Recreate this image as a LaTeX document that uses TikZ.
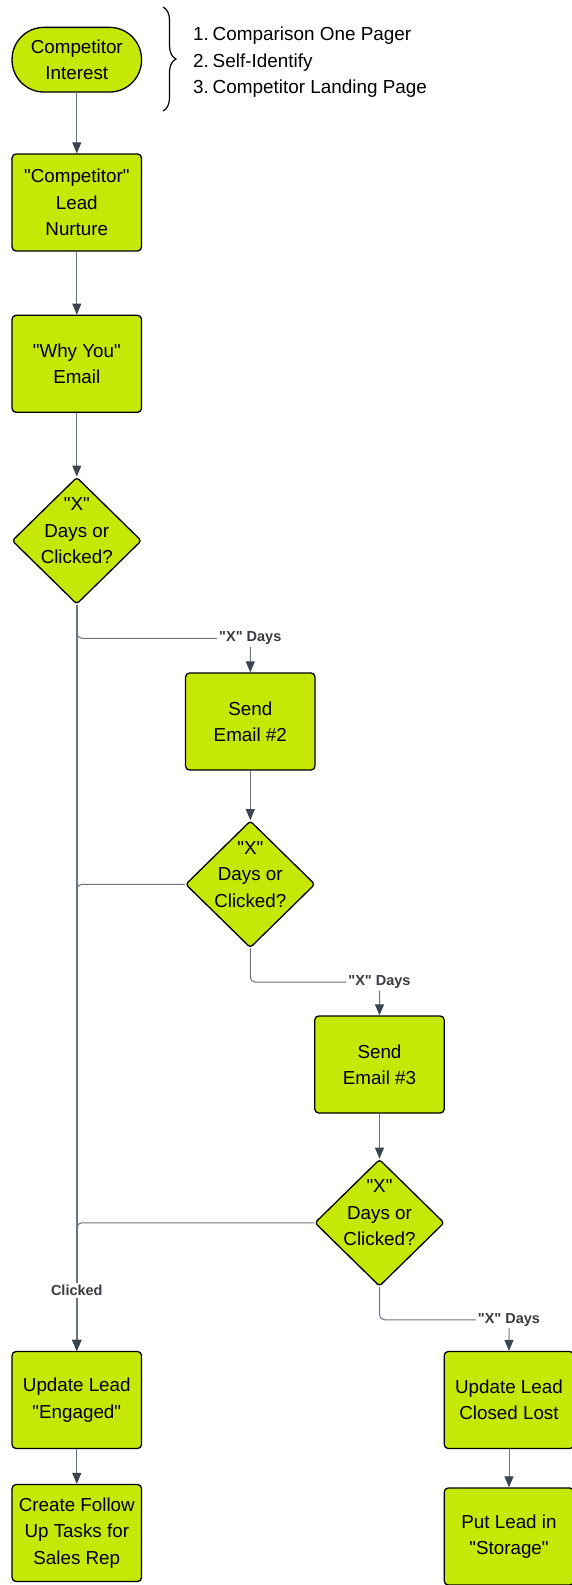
\documentclass[tikz,border=0pt]{standalone}
\usepackage{fontspec}
\setmainfont{Liberation Sans}[Ligatures=TeXOff]
\usetikzlibrary{shapes.geometric,arrows.meta,decorations.pathreplacing}

\definecolor{lime}{RGB}{197,232,6}
\definecolor{edgegray}{RGB}{110,115,122}
\definecolor{tipgray}{RGB}{62,68,78}
\definecolor{labelgray}{RGB}{58,60,64}

\tikzset{
  stepbox/.style={rectangle, draw=black, line width=1.3pt, fill=lime,
    rounded corners=4pt, minimum width=129.5pt, minimum height=97pt,
    inner sep=0pt, align=center, font=\fontsize{18.8}{26.3}\selectfont},
  startbox/.style={stepbox, rounded corners=32pt, minimum height=64.7pt},
  decision/.style={diamond, draw=black, line width=1.3pt, fill=lime,
    rounded corners=3pt, minimum width=129.5pt, minimum height=127pt,
    inner sep=0pt},
  dectext/.style={align=center, inner sep=0pt, font=\fontsize{18.8}{26.5}\selectfont},
  conn/.style={draw=edgegray, line width=1pt, rounded corners=5pt,
    -{Triangle[length=11pt,width=9pt,color=tipgray]}},
  trunk/.style={conn, line width=1.6pt},
  flowlabel/.style={fill=white, text=labelgray, inner sep=2pt,
    font=\fontsize{14.5}{16}\bfseries\selectfont},
  listtext/.style={anchor=base west, inner sep=0pt, font=\fontsize{18.9}{24}\selectfont},
}

\begin{document}
\begin{tikzpicture}[x=1pt, y=-1pt]
  \useasboundingbox[fill=white] (0,0) rectangle (572,1585);

  % left column
  \node[startbox] (ci) at (76.8,59.7) {Competitor\\Interest};
  \node[stepbox] (ln) at (76.8,202.5) {"Competitor"\\Lead\\Nurture};
  \node[stepbox] (wy) at (76.8,363.8) {"Why You"\\Email};
  \node[decision] (d1) at (76.8,540.7) {};
  \node[dectext] (d1t) at ([yshift=10pt]d1.center) {"X"\\Days or\\Clicked?};

  % first follow-up email
  \node[stepbox] (s2) at (250.3,721.5) {Send\\Email \#2};
  \node[decision] (d2) at (250.3,884.3) {};
  \node[dectext] (d2t) at ([yshift=10pt]d2.center) {"X"\\Days or\\Clicked?};

  % second follow-up email
  \node[stepbox] (s3) at (379.5,1064.5) {Send\\Email \#3};
  \node[decision] (d3) at (379.5,1222.8) {};
  \node[dectext] (d3t) at ([yshift=10pt]d3.center) {"X"\\Days or\\Clicked?};

  % outcomes
  \node[stepbox] (eng) at (76.8,1400) {Update Lead\\"Engaged"};
  \node[stepbox] (fu) at (76.8,1533) {Create Follow\\Up Tasks for\\Sales Rep};
  \node[stepbox] (lost) at (509,1400) {Update Lead\\Closed Lost};
  \node[stepbox] (sto) at (509,1536.5) {Put Lead in\\"Storage"};

  % lead sources
  \coordinate (bt) at (163,7);
  \coordinate (bb) at (163,111);
  \draw[line width=1.2pt, decorate, decoration={brace, amplitude=13pt}] (bt) -- (bb);
  \node[listtext] (n1) at (193,40.5) {1.};
  \node[listtext] (t1) at (212.5,40.5) {Comparison One Pager};
  \node[listtext] (n2) at (193,67) {2.};
  \node[listtext] (t2) at (212.5,67) {Self-Identify};
  \node[listtext] (n3) at (193,93) {3.};
  \node[listtext] (t3) at (212.5,93) {Competitor Landing Page};

  % straight steps
  \draw[conn] (ci.south) -- (ln.north);
  \draw[conn] (ln.south) -- (wy.north);
  \draw[conn] (wy.south) -- (d1.north);
  \draw[conn] (s2.south) -- (d2.north);
  \draw[conn] (s3.south) -- (d3.north);
  \draw[conn] (eng.south) -- (fu.north);
  \draw[conn] (lost.south) -- (sto.north);

  % clicked branches joining the main line
  \draw[conn] (d2.west) -| (eng.north);
  \draw[conn] (d3.west) -| (eng.north);

  % timed-out branches
  \draw[conn] (d1.south) -- ++(0,33.4) -| node[flowlabel, pos=0.5] (x1) {"X" Days} (s2.north);
  \draw[conn] (d2.south) -- ++(0,33.7) -| node[flowlabel, pos=0.5] (x2) {"X" Days} (s3.north);
  \draw[conn] (d3.south) -- ++(0,32.8) -| node[flowlabel, pos=0.5] (x3) {"X" Days} (lost.north);

  % main clicked line
  \draw[trunk] (d1.south) -- node[flowlabel, pos=0.919] (cl) {Clicked} (eng.north);
\end{tikzpicture}
\end{document}
